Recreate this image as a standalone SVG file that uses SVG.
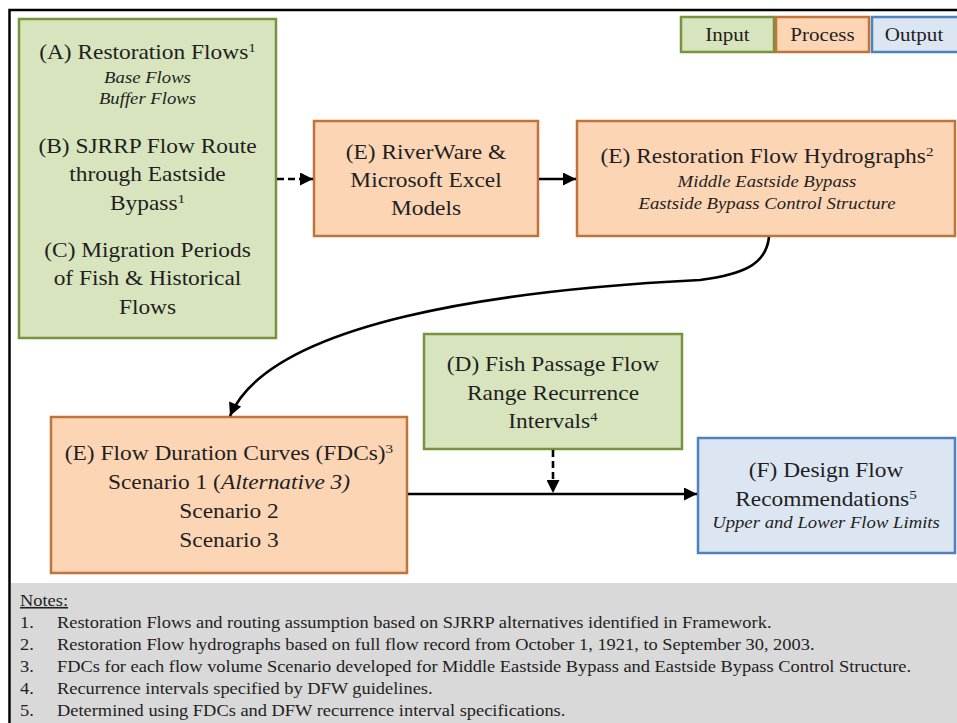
<svg xmlns="http://www.w3.org/2000/svg" width="957" height="723" viewBox="0 0 957 723" font-family="'Liberation Serif', 'DejaVu Serif', serif">
<style>
.in{fill:#d7e4bd;stroke:#77933c;stroke-width:2.5}
.pr{fill:#fcd5b5;stroke:#c0733a;stroke-width:2.5}
.out{fill:#dce6f2;stroke:#4f81bd;stroke-width:2.5}
text{font-family:'Liberation Serif','DejaVu Serif',serif;fill:#1f1f1f}
.t{font-size:20px;text-anchor:middle}
.lg{font-size:18px;text-anchor:middle}
.i{font-size:16px;font-style:italic;text-anchor:middle}
.n{font-size:16px}
.c{fill:none;stroke:#000;stroke-width:2.6}
.d{stroke-dasharray:7 4}
</style>
<defs>
<marker id="ah" viewBox="0 0 10 10" refX="10" refY="5" markerWidth="14" markerHeight="13" orient="auto" markerUnits="userSpaceOnUse">
<path d="M0,0 L10,5 L0,10 z" fill="#000"/>
</marker>
</defs>
<rect x="0" y="0" width="957" height="723" fill="#fff"/>
<rect x="11" y="583" width="946" height="140" fill="#d9d9d9"/>
<path d="M9.5,723 V10 H957" fill="none" stroke="#000" stroke-width="2.5"/>

<g id="legend">
<rect class="in" x="681" y="17" width="93" height="35"/>
<rect class="pr" x="776" y="17" width="93" height="35"/>
<rect class="out" x="872" y="17" width="90" height="35"/>
<text class="lg" transform="translate(727.5,41) scale(1.17,1)">Input</text>
<text class="lg" transform="translate(822.5,41) scale(1.17,1)">Process</text>
<text class="lg" transform="translate(914,41) scale(1.17,1)">Output</text>
</g>

<g id="nodeA">
<rect class="in" x="19" y="19" width="257" height="319"/>
<text class="t" transform="translate(147.5,59) scale(1.17,1)">(A) Restoration Flows<tspan font-size="13" dy="-7">1</tspan></text>
<text class="i" transform="translate(147.5,83) scale(1.17,1)">Base Flows</text>
<text class="i" transform="translate(147.5,104) scale(1.17,1)">Buffer Flows</text>
<text class="t" transform="translate(147.5,152.5) scale(1.17,1)">(B) SJRRP Flow Route</text>
<text class="t" transform="translate(147.5,181) scale(1.17,1)">through Eastside</text>
<text class="t" transform="translate(147.5,209.5) scale(1.17,1)">Bypass<tspan font-size="13" dy="-7">1</tspan></text>
<text class="t" transform="translate(147.5,256.5) scale(1.17,1)">(C) Migration Periods</text>
<text class="t" transform="translate(147.5,285) scale(1.17,1)">of Fish &amp; Historical</text>
<text class="t" transform="translate(147.5,313.5) scale(1.17,1)">Flows</text>
</g>

<g id="nodeRiverWare">
<rect class="pr" x="314" y="121" width="224" height="115"/>
<text class="t" transform="translate(426,159) scale(1.17,1)">(E) RiverWare &amp;</text>
<text class="t" transform="translate(426,187) scale(1.17,1)">Microsoft Excel</text>
<text class="t" transform="translate(426,215) scale(1.17,1)">Models</text>
</g>

<g id="nodeHydrographs">
<rect class="pr" x="577" y="121" width="378" height="115"/>
<text class="t" transform="translate(767,163) scale(1.17,1)">(E) Restoration Flow Hydrographs<tspan font-size="13" dy="-7">2</tspan></text>
<text class="i" transform="translate(767,187) scale(1.17,1)">Middle Eastside Bypass</text>
<text class="i" transform="translate(767,209) scale(1.17,1)">Eastside Bypass Control Structure</text>
</g>

<g id="nodeFDC">
<rect class="pr" x="51" y="417" width="356" height="156"/>
<text class="t" transform="translate(229,460) scale(1.17,1)">(E) Flow Duration Curves (FDCs)<tspan font-size="13" dy="-7">3</tspan></text>
<text class="t" transform="translate(229,489) scale(1.17,1)">Scenario 1 (<tspan font-style="italic">Alternative 3)</tspan></text>
<text class="t" transform="translate(229,518) scale(1.17,1)">Scenario 2</text>
<text class="t" transform="translate(229,547) scale(1.17,1)">Scenario 3</text>
</g>

<g id="nodeD">
<rect class="in" x="424" y="334" width="258" height="115"/>
<text class="t" transform="translate(553,371) scale(1.17,1)">(D) Fish Passage Flow</text>
<text class="t" transform="translate(553,399.5) scale(1.17,1)">Range Recurrence</text>
<text class="t" transform="translate(553,428) scale(1.17,1)">Intervals<tspan font-size="13" dy="-7">4</tspan></text>
</g>

<g id="nodeF">
<rect class="out" x="698" y="438" width="257" height="115"/>
<text class="t" transform="translate(826,477) scale(1.17,1)">(F) Design Flow</text>
<text class="t" transform="translate(826,505.5) scale(1.17,1)">Recommendations<tspan font-size="13" dy="-7">5</tspan></text>
<text class="i" transform="translate(826,528) scale(1.17,1)">Upper and Lower Flow Limits</text>
</g>

<g id="connectors">
<path class="c d" d="M277,179 H313" marker-end="url(#ah)"/>
<path class="c" d="M539,179 H576" marker-end="url(#ah)"/>
<path class="c" d="M769,237 C766,264 745,274 700,280 C500,290 270,322 230,416" marker-end="url(#ah)"/>
<path class="c" d="M408,494 H697" marker-end="url(#ah)"/>
<path class="c d" d="M553,450 V493" marker-end="url(#ah)"/>
</g>

<g id="notes">
<text class="n" text-decoration="underline" transform="translate(20,606) scale(1.15,1)">Notes:</text>
<text class="n" transform="translate(20,628) scale(1.15,1)">1.</text>
<text class="n" transform="translate(57,628) scale(1.15,1)">Restoration Flows and routing assumption based on SJRRP alternatives  identified  in Framework.</text>
<text class="n" transform="translate(20,650) scale(1.15,1)">2.</text>
<text class="n" transform="translate(57,650) scale(1.15,1)">Restoration Flow hydrographs based on full  flow record from October 1, 1921, to September 30, 2003.</text>
<text class="n" transform="translate(20,672) scale(1.15,1)">3.</text>
<text class="n" transform="translate(57,672) scale(1.15,1)">FDCs for each flow volume  Scenario developed for Middle Eastside Bypass and Eastside Bypass Control Structure.</text>
<text class="n" transform="translate(20,694) scale(1.15,1)">4.</text>
<text class="n" transform="translate(57,694) scale(1.15,1)">Recurrence intervals  specified by DFW guidelines.</text>
<text class="n" transform="translate(20,716) scale(1.15,1)">5.</text>
<text class="n" transform="translate(57,716) scale(1.15,1)">Determined  using FDCs and DFW recurrence interval  specifications.</text>
</g>
</svg>
